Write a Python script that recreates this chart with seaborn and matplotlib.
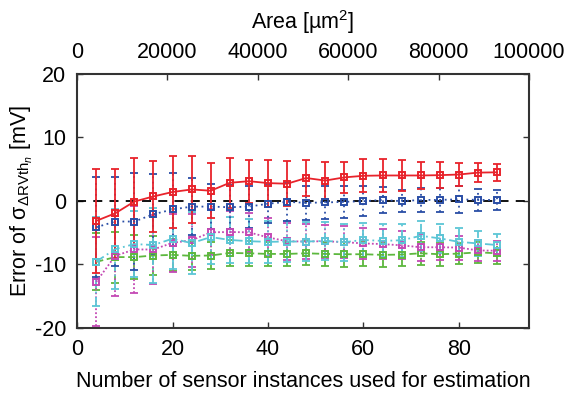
import numpy as np
import pandas as pd
import seaborn as sns
import matplotlib
matplotlib.use("Agg")
import matplotlib.pyplot as plt

# number of sensor instances
n_sensors = [4, 8, 12, 16, 20, 24, 28, 32, 36, 40, 44, 48, 52, 56, 60, 64, 68, 72, 76, 80, 84, 88]

red_mean = [-3.15, -1.95, -0.1, 0.7, 1.4, 1.8, 1.6, 2.85, 3.1, 2.8, 2.7, 3.6, 3.2, 3.7, 3.95, 4.0, 4.0, 4.0, 4.05, 4.15, 4.45, 4.5]
red_err = [8.2, 7.0, 6.8, 5.6, 5.6, 5.3, 4.3, 3.95, 3.4, 3.7, 3.55, 2.9, 2.9, 2.4, 2.6, 2.55, 2.45, 2.15, 2.1, 1.75, 1.45, 1.35]

blue_mean = [-4.15, -3.25, -3.25, -2.1, -1.35, -0.9, -0.9, -1.0, -0.9, -0.45, -0.15, -0.3, -0.25, -0.15, -0.05, 0.15, -0.05, 0.15, 0.15, 0.25, 0.15, 0.15]
blue_err = [7.9, 7.0, 7.6, 6.3, 5.8, 4.5, 3.6, 3.5, 3.3, 3.1, 3.0, 2.7, 2.6, 2.5, 2.4, 2.1, 1.75, 1.85, 1.9, 2.1, 1.7, 1.6]

cyan_mean = [-9.55, -7.6, -6.8, -6.95, -5.95, -6.65, -5.7, -6.15, -6.35, -6.45, -6.4, -6.4, -6.3, -6.5, -6.15, -6.3, -6.2, -5.5, -5.9, -6.45, -6.7, -6.95]
cyan_err = [7.0, 6.3, 5.2, 5.9, 4.7, 4.9, 4.2, 3.6, 3.5, 3.3, 3.2, 3.0, 3.0, 2.9, 2.7, 2.6, 2.6, 2.35, 2.3, 2.2, 2.0, 1.7]

magenta_mean = [-12.75, -8.65, -7.65, -7.65, -6.6, -6.2, -4.95, -4.9, -4.95, -5.75, -6.35, -6.4, -6.35, -6.5, -6.7, -6.8, -7.0, -7.3, -7.3, -7.35, -7.8, -7.85]
magenta_err = [7.0, 6.3, 6.8, 5.4, 4.6, 4.2, 3.6, 3.3, 3.1, 3.0, 2.9, 2.7, 2.6, 2.5, 2.4, 2.3, 2.2, 2.1, 2.0, 1.9, 1.7, 1.6]

green_mean = [-9.6, -8.85, -8.85, -8.6, -8.5, -8.65, -8.6, -8.2, -8.25, -8.35, -8.35, -8.25, -8.35, -8.4, -8.4, -8.5, -8.45, -8.25, -8.4, -8.3, -8.1, -8.25]
green_err = [4.5, 4.0, 3.5, 3.0, 2.5, 2.3, 2.1, 2.0, 2.0, 1.9, 1.9, 1.9, 1.9, 2.0, 1.9, 1.9, 1.8, 1.8, 1.8, 1.7, 1.7, 1.7]

series = [
    ("green", green_mean, green_err, "#5db83e", (0, (4, 2))),
    ("magenta", magenta_mean, magenta_err, "#c449b4", (0, (1, 1.2))),
    ("cyan", cyan_mean, cyan_err, "#5cc6d6", (0, (5, 2, 1, 2))),
    ("blue", blue_mean, blue_err, "#2a4ea6", (0, (1, 2))),
    ("red", red_mean, red_err, "#e8232b", "-"),
]

sns.set_theme(style="ticks")
plt.rcParams['font.family'] = ['Liberation Sans', 'DejaVu Sans']
plt.rcParams['mathtext.fontset'] = 'custom'
plt.rcParams['mathtext.rm'] = 'Liberation Sans'
plt.rcParams['mathtext.it'] = 'Liberation Sans:italic'
plt.rcParams['mathtext.sf'] = 'Liberation Sans'
plt.rcParams['axes.unicode_minus'] = False
plt.rcParams['text.color'] = 'black'
plt.rcParams['axes.labelcolor'] = 'black'

FS = 15.5

fig = plt.figure(figsize=(5.67, 3.97), dpi=100)
ax = fig.add_axes([0.136, 0.174, 0.797, 0.640])

ax.axhline(0, color="black", linestyle=(0, (5, 4)), linewidth=1.3, zorder=1)

for name, mean, err, col, ls in series:
    df = pd.DataFrame({"n": n_sensors, "err": mean})
    eb = ax.errorbar(n_sensors, mean, yerr=err, fmt="none", ecolor=col, elinewidth=1.3,
                     capsize=3, capthick=1.3, zorder=2)
    eb[2][0].set_linestyle(ls)
    sns.lineplot(data=df, x="n", y="err", ax=ax, color=col, linestyle=ls, linewidth=1.3,
                 marker="s", markersize=5, markerfacecolor="none", markeredgecolor=col,
                 markeredgewidth=1.4, zorder=3)

ax.set_xlim(0, 94.7)
ax.set_ylim(-20, 20)
ax.set_xticks([0, 20, 40, 60, 80])
ax.set_yticks([-20, -10, 0, 10, 20])
ax.tick_params(direction="in", labelsize=FS, length=4, width=1, top=False, right=True,
               pad=8, colors="#333333", labelcolor="black")
for s in ax.spines.values():
    s.set_linewidth(1.5)
    s.set_color("#333333")

ax.set_xlabel("Number of sensor instances used for estimation", fontsize=FS, labelpad=8)
ax.set_ylabel(r"Error of σ$_{\Delta\mathrm{RVth}_{n}}$ [mV]", fontsize=FS, labelpad=0)

scale = 100000 / 94.7
top = ax.secondary_xaxis("top", functions=(lambda v: v * scale, lambda v: v / scale))
top.set_xticks([0, 20000, 40000, 60000, 80000, 100000])
top.tick_params(direction="in", labelsize=FS, length=4, width=1, pad=8, colors="#333333",
                labelcolor="black")
top.set_xlabel(r"Area [µm$^{2}$]", fontsize=FS, labelpad=9)

fig.savefig("out.png", dpi=100)
